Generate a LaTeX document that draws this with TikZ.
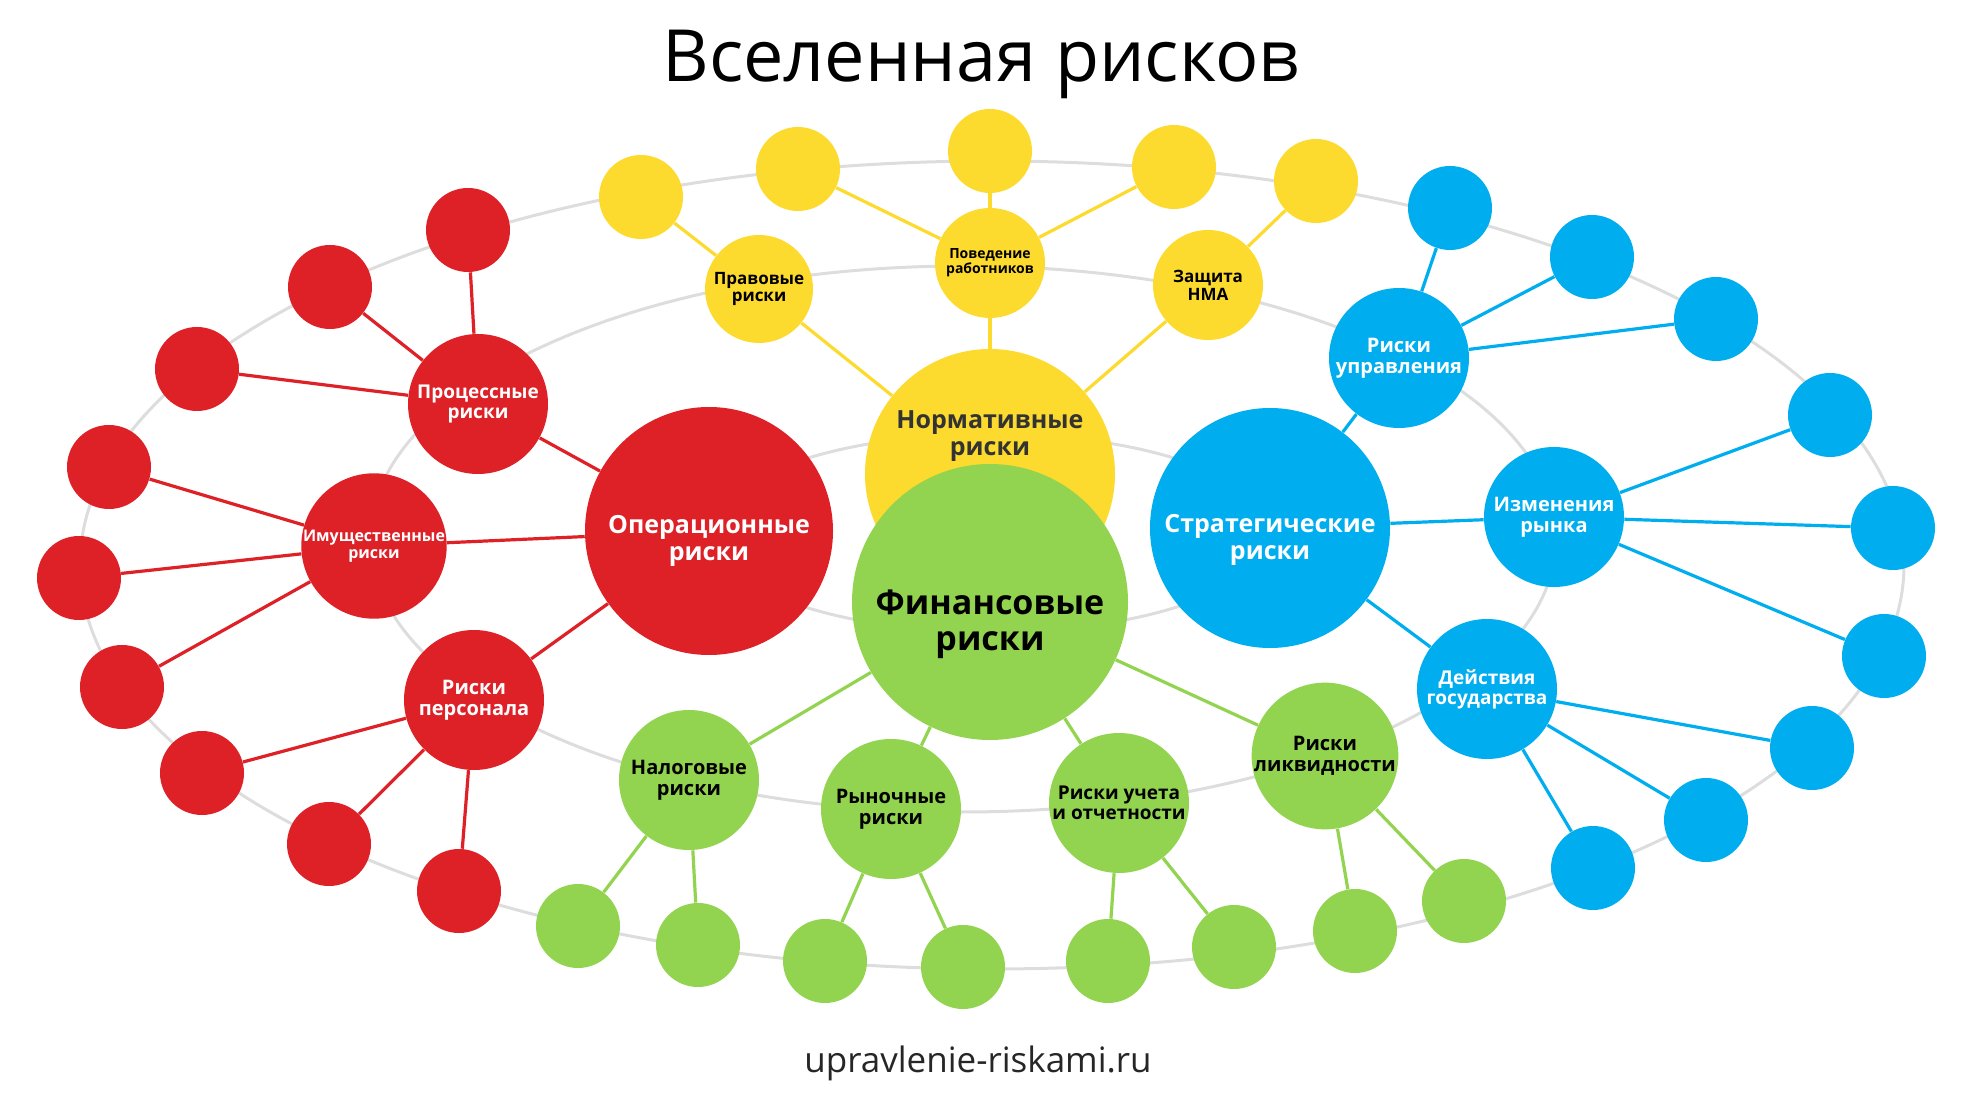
\documentclass[tikz,border=0pt]{standalone}
\usepackage{fontspec}
\setmainfont{Open Sans}
\usepackage{xcolor}
\definecolor{riskred}{HTML}{DE2027}
\definecolor{riskyellow}{HTML}{FDDA2E}
\definecolor{riskgreen}{HTML}{92D34F}
\definecolor{riskblue}{HTML}{00AEEF}
\definecolor{orbitgray}{HTML}{DDDDDD}
\newcommand{\fs}[1]{\fontsize{#1}{\fpeval{1.05*#1}}\selectfont\bfseries}
\tikzset{
	every node/.style={circle, inner sep=0pt, align=center},
	orbit/.style={draw=orbitgray, line width=1.5pt},
	leaf/.style={minimum size=42pt},
	mid/.style={minimum size=70pt, font=\fs{10}},
	hub/.style={font=\fs{12.5}},
	redlink/.style={draw=riskred, line width=1.6pt},
	yellowlink/.style={draw=riskyellow, line width=1.6pt},
	greenlink/.style={draw=riskgreen, line width=1.6pt},
	bluelink/.style={draw=riskblue, line width=1.6pt},
}

\begin{document}
\begin{tikzpicture}[x=0.5pt, y=-0.5pt]
	\useasboundingbox (0,0) rectangle (1967,1096);
	% orbits
	\draw[orbit] (992,565) ellipse [x radius=912, y radius=404];
	\draw[orbit] (963,539) ellipse [x radius=593, y radius=273];
	\draw[orbit] (991,533) ellipse [x radius=280, y radius=99];

	\node[rectangle, font=\fontsize{36}{40}\selectfont] (title) at (981,64) {Вселенная рисков};
	\node[rectangle, font=\fontsize{17.5}{20}\selectfont, text=black!85] (site) at (978,1063) {upravlenie-riskami.ru};

	% operational
	\node[fill=riskred, minimum size=124pt,
		label={[hub, text=white, yshift=-5pt]center:{Операционные\\риски}}] (op) at (709,531) {};
	\node[mid, fill=riskred, text=white, font=\fs{9.5}] (proc) at (478,404) {Процессные\\риски};
	\node[mid, fill=riskred, text=white, font=\fs{8}] (prop) at (374,546) {Имущественные\\риски};
	\node[mid, fill=riskred, text=white] (staff) at (474,700) {Риски\\персонала};
	\node[leaf, fill=riskred] (r1) at (468,230) {};
	\node[leaf, fill=riskred] (r2) at (330,287) {};
	\node[leaf, fill=riskred] (r3) at (197,369) {};
	\node[leaf, fill=riskred] (r4) at (109,467) {};
	\node[leaf, fill=riskred] (r5) at (79,578) {};
	\node[leaf, fill=riskred] (r6) at (122,687) {};
	\node[leaf, fill=riskred] (r7) at (202,773) {};
	\node[leaf, fill=riskred] (r8) at (329,844) {};
	\node[leaf, fill=riskred] (r9) at (459,891) {};
	\draw[redlink] (op) -- (proc);
	\draw[redlink] (op) -- (prop);
	\draw[redlink] (op) -- (staff);
	\draw[redlink] (proc) -- (r1);
	\draw[redlink] (proc) -- (r2);
	\draw[redlink] (proc) -- (r3);
	\draw[redlink] (prop) -- (r4);
	\draw[redlink] (prop) -- (r5);
	\draw[redlink] (prop) -- (r6);
	\draw[redlink] (staff) -- (r7);
	\draw[redlink] (staff) -- (r8);
	\draw[redlink] (staff) -- (r9);

	% normative
	\node[fill=riskyellow, minimum size=125pt,
		label={[hub, text=black!80, yshift=19pt]center:{Нормативные\\риски}}] (norm) at (990,474) {};
	\node[fill=riskyellow, minimum size=54pt, font=\fs{8.5}] (law) at (759,289) {Правовые\\риски};
	\node[fill=riskyellow, minimum size=55pt, font=\fs{7}] (conduct) at (990,263) {Поведение\\работников};
	\node[fill=riskyellow, minimum size=55pt, font=\fs{8.5}] (ip) at (1208,285) {Защита\\НМА};
	\node[leaf, fill=riskyellow] (y1) at (641,197) {};
	\node[leaf, fill=riskyellow] (y2) at (798,169) {};
	\node[leaf, fill=riskyellow] (y3) at (990,151) {};
	\node[leaf, fill=riskyellow] (y4) at (1174,167) {};
	\node[leaf, fill=riskyellow] (y5) at (1316,181) {};
	\draw[yellowlink] (norm) -- (law);
	\draw[yellowlink] (norm) -- (conduct);
	\draw[yellowlink] (norm) -- (ip);
	\draw[yellowlink] (law) -- (y1);
	\draw[yellowlink] (conduct) -- (y2);
	\draw[yellowlink] (conduct) -- (y3);
	\draw[yellowlink] (conduct) -- (y4);
	\draw[yellowlink] (ip) -- (y5);

	% financial
	\node[fill=riskgreen, minimum size=138pt,
		label={[font=\fs{17}, yshift=-11pt]center:{Финансовые\\риски}}] (fin) at (990,602) {};
	\node[mid, fill=riskgreen] (tax) at (689,780) {Налоговые\\риски};
	\node[mid, fill=riskgreen] (market) at (891,809) {Рыночные\\риски};
	\node[mid, fill=riskgreen, font=\fs{9.5}] (report) at (1119,803) {Риски учета\\и отчетности};
	\node[mid, fill=riskgreen] (liquid) at (1325,756) {Риски\\ликвидности};
	\node[leaf, fill=riskgreen] (g1) at (578,926) {};
	\node[leaf, fill=riskgreen] (g2) at (698,945) {};
	\node[leaf, fill=riskgreen] (g3) at (825,961) {};
	\node[leaf, fill=riskgreen] (g4) at (963,967) {};
	\node[leaf, fill=riskgreen] (g5) at (1108,961) {};
	\node[leaf, fill=riskgreen] (g6) at (1234,947) {};
	\node[leaf, fill=riskgreen] (g7) at (1355,931) {};
	\node[leaf, fill=riskgreen] (g8) at (1464,901) {};
	\draw[greenlink] (fin) -- (tax);
	\draw[greenlink] (fin) -- (market);
	\draw[greenlink] (fin) -- (report);
	\draw[greenlink] (fin) -- (liquid);
	\draw[greenlink] (tax) -- (g1);
	\draw[greenlink] (tax) -- (g2);
	\draw[greenlink] (market) -- (g3);
	\draw[greenlink] (market) -- (g4);
	\draw[greenlink] (report) -- (g5);
	\draw[greenlink] (report) -- (g6);
	\draw[greenlink] (liquid) -- (g7);
	\draw[greenlink] (liquid) -- (g8);

	% strategic
	\node[fill=riskblue, minimum size=120pt,
		label={[hub, text=white, yshift=-6pt]center:{Стратегические\\риски}}] (strat) at (1270,528) {};
	\node[mid, fill=riskblue, text=white] (mgmt) at (1399,358) {Риски\\управления};
	\node[mid, fill=riskblue, text=white] (shift) at (1554,517) {Изменения\\рынка};
	\node[mid, fill=riskblue, text=white, font=\fs{9.5}] (gov) at (1487,689) {Действия\\государства};
	\node[leaf, fill=riskblue] (b1) at (1450,208) {};
	\node[leaf, fill=riskblue] (b2) at (1592,257) {};
	\node[leaf, fill=riskblue] (b3) at (1716,319) {};
	\node[leaf, fill=riskblue] (b4) at (1830,415) {};
	\node[leaf, fill=riskblue] (b5) at (1893,528) {};
	\node[leaf, fill=riskblue] (b6) at (1884,656) {};
	\node[leaf, fill=riskblue] (b7) at (1812,748) {};
	\node[leaf, fill=riskblue] (b8) at (1706,820) {};
	\node[leaf, fill=riskblue] (b9) at (1593,868) {};
	\draw[bluelink] (strat) -- (mgmt);
	\draw[bluelink] (strat) -- (shift);
	\draw[bluelink] (strat) -- (gov);
	\draw[bluelink] (mgmt) -- (b1);
	\draw[bluelink] (mgmt) -- (b2);
	\draw[bluelink] (mgmt) -- (b3);
	\draw[bluelink] (shift) -- (b4);
	\draw[bluelink] (shift) -- (b5);
	\draw[bluelink] (shift) -- (b6);
	\draw[bluelink] (gov) -- (b7);
	\draw[bluelink] (gov) -- (b8);
	\draw[bluelink] (gov) -- (b9);
\end{tikzpicture}
\end{document}
